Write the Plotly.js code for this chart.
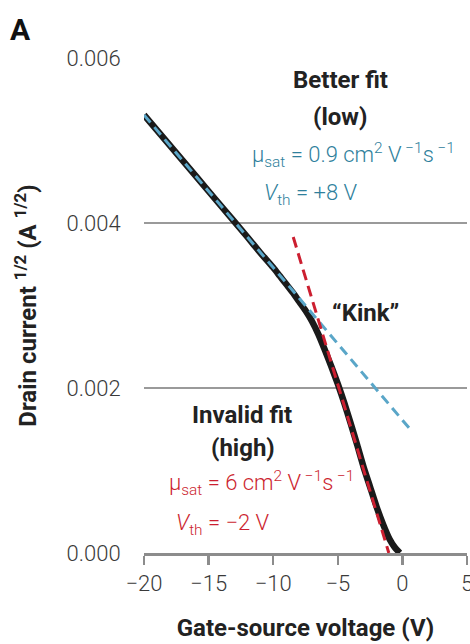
<!DOCTYPE html>
<html>
<head>
<meta charset="utf-8">
<script src="https://cdn.plot.ly/plotly-3.0.1.min.js"></script>
<style>
  html, body { margin: 0; padding: 0; background: #ffffff; }
  #chart { width: 470px; height: 644px; }
</style>
</head>
<body>
<div id="chart"></div>
<script>
// Measured transfer curve (sqrt of drain current vs gate-source voltage)
const gateVoltage = [-20, -18, -16, -14, -12, -11, -10, -9.5, -9, -8.5, -8, -7.5, -7, -6.5, -6, -5.5, -5, -4.5, -4, -3.5, -3, -2.5, -2, -1.5, -1, -0.6, -0.2];
const sqrtDrainCurrent = [0.00531, 0.00494, 0.00457, 0.00420, 0.00383, 0.00364, 0.00346, 0.00336, 0.00326, 0.00316, 0.00305, 0.00294, 0.00281, 0.00265, 0.00246, 0.00226, 0.00205, 0.00182, 0.00157, 0.00131, 0.00104, 0.00080, 0.00056, 0.00035, 0.00017, 0.00007, 0.0];

// "Better fit (low)" line
const lowFitVoltage = [-20, 0.6];
const lowFitCurrent = [0.00531, 0.00150];

// "Invalid fit (high)" line
const highFitVoltage = [-8.45, -1.05];
const highFitCurrent = [0.00383, 0.0];

const xTicks = [-20, -15, -10, -5, 0, 5];
const xTickText = ['\u221220', '\u221215', '\u221210', '\u22125', '0', '5'];
const yTicks = [0, 0.002, 0.004, 0.006];
const yTickText = ['0.000', '0.002', '0.004', '0.006'];

const FONT = 'Roboto, "Noto Sans", sans-serif';
const BLUE_LINE = '#5aa6c8';
const BLUE_TEXT = '#2f7f9c';
const RED = '#cc1f30';

const traces = [
  { x: gateVoltage, y: sqrtDrainCurrent, mode: 'lines', line: { color: '#1a1a1a', width: 6.5, shape: 'spline', smoothing: 0.6 }, hoverinfo: 'skip' },
  { x: lowFitVoltage, y: lowFitCurrent, mode: 'lines', line: { color: BLUE_LINE, width: 3, dash: '10px,6px' }, hoverinfo: 'skip' },
  { x: highFitVoltage, y: highFitCurrent, mode: 'lines', line: { color: RED, width: 3, dash: '11px,6px' }, hoverinfo: 'skip' }
];

const boldFont = { family: FONT, size: 24, color: '#222222', weight: 700 };

const layout = {
  width: 470, height: 644,
  margin: { l: 144, r: 3, t: 58, b: 91 },
  paper_bgcolor: '#ffffff', plot_bgcolor: '#ffffff',
  showlegend: false,
  font: { family: FONT, color: '#222222', size: 20 },
  xaxis: {
    range: [-20, 5], tickvals: xTicks, ticktext: xTickText,
    showgrid: false, zeroline: false,
    showline: true, linecolor: '#8c8c8c', linewidth: 3,
    ticks: 'outside', ticklen: 9, tickwidth: 2.5, tickcolor: '#8c8c8c',
    ticklabeloverflow: 'allow',
    tickfont: { family: FONT, size: 22, color: '#3a3a3a', weight: 300 },
    title: { text: 'Gate-source voltage (V)', font: boldFont, standoff: 24 }
  },
  yaxis: {
    range: [0, 0.006], tickvals: yTicks, ticktext: yTickText,
    showgrid: true, gridcolor: '#9a9a9a', gridwidth: 1.5,
    zeroline: false, showline: false,
    ticks: 'outside', ticklen: 18, tickcolor: 'rgba(0,0,0,0)',
    tickfont: { family: FONT, size: 22, color: '#3a3a3a', weight: 300 },
    title: { text: 'Drain current <sup>1/2</sup> (A <sup>1/2</sup>)', font: boldFont, standoff: 23 }
  },
  annotations: [
    { text: 'A', xref: 'paper', yref: 'paper', x: -0.42, y: 1.058, xanchor: 'left', yanchor: 'middle', showarrow: false, font: { family: FONT, size: 30, color: '#111111', weight: 700 } },
    { text: 'Better fit', xref: 'x', yref: 'y', x: -4.83, y: 0.00573, showarrow: false, font: boldFont },
    { text: '(low)', xref: 'x', yref: 'y', x: -4.83, y: 0.005285, showarrow: false, font: boldFont },
    { text: '\u03bc<sub>sat</sub> = 0.9 cm<sup>2</sup> V<sup> \u22121</sup>s<sup> \u22121</sup>', xref: 'x', yref: 'y', x: -11.8, y: 0.00482, xanchor: 'left', showarrow: false, font: { family: FONT, size: 22, color: BLUE_TEXT, weight: 300 } },
    { text: '<i>V</i><sub>th</sub> = +8 V', xref: 'x', yref: 'y', x: -10.87, y: 0.00434, xanchor: 'left', showarrow: false, font: { family: FONT, size: 22, color: BLUE_TEXT, weight: 300 } },
    { text: '\u201cKink\u201d', xref: 'x', yref: 'y', x: -2.82, y: 0.00291, showarrow: false, font: boldFont },
    { text: 'Invalid fit', xref: 'x', yref: 'y', x: -12.4, y: 0.001673, showarrow: false, font: boldFont },
    { text: '(high)', xref: 'x', yref: 'y', x: -12.34, y: 0.001273, showarrow: false, font: boldFont },
    { text: '\u03bc<sub>sat</sub> = 6 cm<sup>2</sup> V<sup> \u22121</sup>s<sup> \u22121</sup>', xref: 'x', yref: 'y', x: -18.22, y: 0.000848, xanchor: 'left', showarrow: false, font: { family: FONT, size: 22, color: RED, weight: 300 } },
    { text: '<i>V</i><sub>th</sub> = \u22122 V', xref: 'x', yref: 'y', x: -17.68, y: 0.00034, xanchor: 'left', showarrow: false, font: { family: FONT, size: 22, color: RED, weight: 300 } }
  ]
};

Plotly.newPlot('chart', traces, layout, { displayModeBar: false, staticPlot: true });
</script>
</body>
</html>
